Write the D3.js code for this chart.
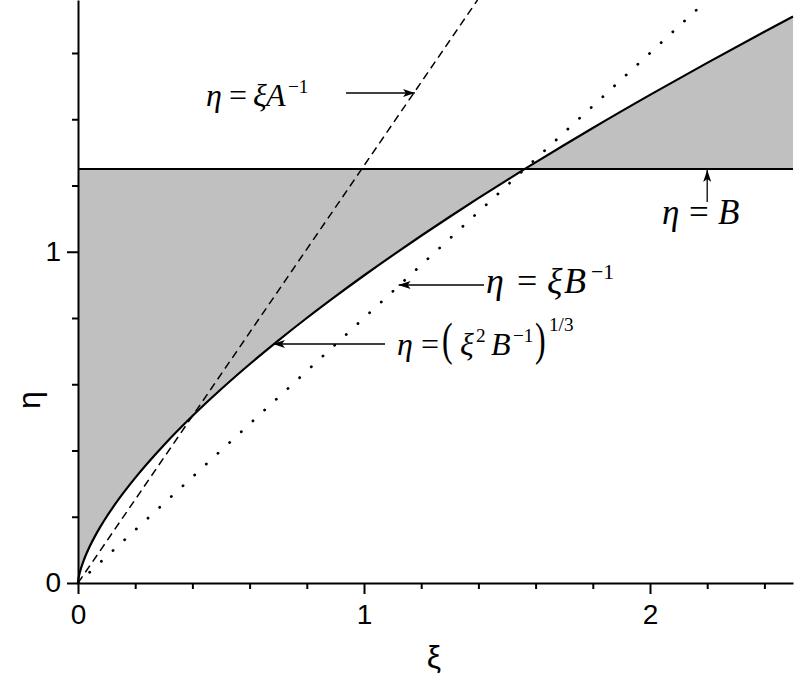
<!DOCTYPE html>
<html><head><meta charset="utf-8">
<script src="https://cdn.jsdelivr.net/npm/d3@7"></script>
<style>body{margin:0;background:#fff} svg{display:block}</style>
</head><body><svg id="c" width="795" height="681"></svg>
<script>
// ---- data ----
const paramA = 0.794, paramB = 1.25;
const xMajorTicks = [0, 1, 2];
const xMinorTicks = [0.2, 0.4, 0.6, 0.8, 1.2, 1.4, 1.6, 1.8, 2.2, 2.4];
const yMajorTicks = [0, 1];
const yMinorTicks = [0.2, 0.4, 0.6, 0.8, 1.2, 1.4, 1.6];
// boundary curve eta = (xi^2 B^-1)^(1/3)
const curveXi  = [0, 0.001, 0.0025, 0.005, 0.01, 0.02, 0.04, 0.06, 0.08, 0.1, 0.15, 0.2, 0.3, 0.4, 0.5, 0.6, 0.7, 0.8, 0.9, 1.0, 1.1, 1.2, 1.3, 1.4, 1.5, 1.5625, 1.6, 1.8, 2.0, 2.2, 2.4, 2.5];
const curveEta = [0, 0.0093, 0.0171, 0.0271, 0.0431, 0.0684, 0.1086, 0.1423, 0.1724, 0.2000, 0.2621, 0.3175, 0.4160, 0.5040, 0.5848, 0.6604, 0.7318, 0.8000, 0.8653, 0.9283, 0.9892, 1.0483, 1.1057, 1.1617, 1.2164, 1.2500, 1.2699, 1.3737, 1.4736, 1.5703, 1.6641, 1.7100];
const dashedXi = [0, 1.397], dashedEta = [0, 1.76];   // eta = xi A^-1
const dottedXi = [0, 2.2],   dottedEta = [0, 1.76];   // eta = xi B^-1
const levelXi  = [0, 2.5],   levelEta  = [1.25, 1.25]; // eta = B

// ---- layout ----
const svg = d3.select("#c");
const x = d3.scaleLinear().domain([0, 2.5]).range([78, 793]);
const y = d3.scaleLinear().domain([0, 1.76]).range([583, 0]);
const pts = (xs, ys) => xs.map((v, i) => [v, ys[i]]);

// fill between curve and eta = B
const curvePts = pts(curveXi, curveEta);
svg.append("path")
  .attr("d", d3.area().x(d => x(d[0])).y0(y(paramB)).y1(d => y(d[1])).curve(d3.curveMonotoneX)(curvePts))
  .attr("fill", "#c0c0c0");

const line = d3.line().x(d => x(d[0])).y(d => y(d[1]));
svg.append("path").attr("d", line(pts(dashedXi, dashedEta)))
  .attr("fill", "none").attr("stroke", "#000").attr("stroke-width", 1.5).attr("stroke-dasharray", "8,5");
svg.append("path").attr("d", line(pts(dottedXi, dottedEta)))
  .attr("fill", "none").attr("stroke", "#000").attr("stroke-width", 2.8)
  .attr("stroke-linecap", "round").attr("stroke-dasharray", "0.1,15.8");
svg.append("path").attr("d", line(pts(levelXi, levelEta)))
  .attr("fill", "none").attr("stroke", "#000").attr("stroke-width", 2);
svg.append("path").attr("d", d3.line().x(d => x(d[0])).y(d => y(d[1])).curve(d3.curveMonotoneX)(curvePts))
  .attr("fill", "none").attr("stroke", "#000").attr("stroke-width", 2.2);

// ---- axes ----
const tickFont = "'Liberation Sans', Arial, sans-serif";
function styleAxis(g) {
  g.selectAll("path.domain").attr("stroke", "#000").attr("stroke-width", 2);
  g.selectAll(".tick line").attr("stroke", "#000").attr("stroke-width", 2);
  g.selectAll(".tick text").attr("font-family", tickFont).attr("font-size", 28).attr("fill", "#000");
}
svg.append("g").attr("transform", "translate(0,583)")
  .call(d3.axisBottom(x).tickValues(xMinorTicks).tickSize(6).tickSizeOuter(0).tickFormat(""))
  .call(g => g.select(".domain").remove()).call(styleAxis);
svg.append("g").attr("transform", "translate(0,583)")
  .call(d3.axisBottom(x).tickValues(xMajorTicks).tickSize(11).tickSizeOuter(0).tickPadding(10).tickFormat(d3.format("d")))
  .call(styleAxis);
svg.append("g").attr("transform", "translate(78,0)")
  .call(d3.axisLeft(y).tickValues(yMinorTicks).tickSize(6).tickSizeOuter(0).tickFormat(""))
  .call(g => g.select(".domain").remove()).call(styleAxis);
svg.append("g").attr("transform", "translate(78,0)")
  .call(d3.axisLeft(y).tickValues(yMajorTicks).tickSize(11).tickSizeOuter(0).tickPadding(6).tickFormat(d3.format("d")))
  .call(styleAxis);

// axis titles
svg.append("text").attr("x", 434).attr("y", 668).attr("text-anchor", "middle")
  .attr("font-family", tickFont).attr("font-size", 32).text("ξ");
svg.append("text").attr("transform", "translate(40,400) rotate(-90)").attr("text-anchor", "middle")
  .attr("font-family", tickFont).attr("font-size", 32).text("η");

// ---- annotations ----
const defs = svg.append("defs");
defs.append("marker").attr("id", "ah").attr("viewBox", "0 0 12 8").attr("refX", 12).attr("refY", 4)
  .attr("markerWidth", 12).attr("markerHeight", 8).attr("markerUnits", "userSpaceOnUse").attr("orient", "auto")
  .append("path").attr("d", "M0,0 L12,4 L0,8 L3,4 Z").attr("fill", "#000");
function arrow(x1, y1, x2, y2) {
  svg.append("line").attr("x1", x1).attr("y1", y1).attr("x2", x2).attr("y2", y2)
    .attr("stroke", "#000").attr("stroke-width", 1.3).attr("marker-end", "url(#ah)");
}
const serif = "'Liberation Serif', 'Times New Roman', serif";
// parts: t text, x abs position, i italic, s size factor, up baseline shift, sy vertical stretch
function formula(base, size, parts) {
  parts.forEach(p => {
    const fsz = size * (p.s || 1);
    const yy = base - (p.up || 0) * size;
    const t = svg.append("text").attr("font-family", serif).attr("font-size", fsz).text(p.t);
    if (p.i) t.attr("font-style", "italic");
    t.attr("transform", `translate(${p.x},${yy})` + (p.sy ? ` scale(1,${p.sy})` : ""));
  });
}
// eta = xi A^-1
formula(106, 32, [
  {t: "η", x: 206, i: 1}, {t: "=", x: 229}, {t: "ξ", x: 253, i: 1}, {t: "A", x: 266, i: 1},
  {t: "−1", x: 288, s: 0.6, up: 0.4}]);
arrow(346, 93, x(paramA * y.invert(93)) + 1, 93);
// eta = B
formula(224, 35, [{t: "η", x: 662, i: 1}, {t: "=", x: 689}, {t: "B", x: 718, i: 1}]);
arrow(x(2.2), 202, x(2.2), y(paramB) + 1);
// eta = xi B^-1
formula(293, 36, [
  {t: "η", x: 486, i: 1}, {t: "=", x: 517}, {t: "ξ", x: 547, i: 1}, {t: "B", x: 564, i: 1},
  {t: "−1", x: 591, s: 0.6, up: 0.4}]);
arrow(484, 285, x(paramB * y.invert(285)) - 1, 285);
// eta = (xi^2 B^-1)^(1/3)
formula(355, 32, [
  {t: "η", x: 397, i: 1}, {t: "=", x: 421}, {t: "(", x: 442, sy: 1.45},
  {t: "ξ", x: 460, i: 1}, {t: "2", x: 476, s: 0.6, up: 0.4}, {t: "B", x: 491, i: 1},
  {t: "−1", x: 513, s: 0.6, up: 0.4}, {t: ")", x: 535, sy: 1.45}, {t: "1/3", x: 549, s: 0.6, up: 0.75}]);
const curveArrowY = 344;
arrow(385, curveArrowY, x(Math.sqrt(paramB * Math.pow(y.invert(curveArrowY), 3))) - 1, curveArrowY);
</script></body></html>
